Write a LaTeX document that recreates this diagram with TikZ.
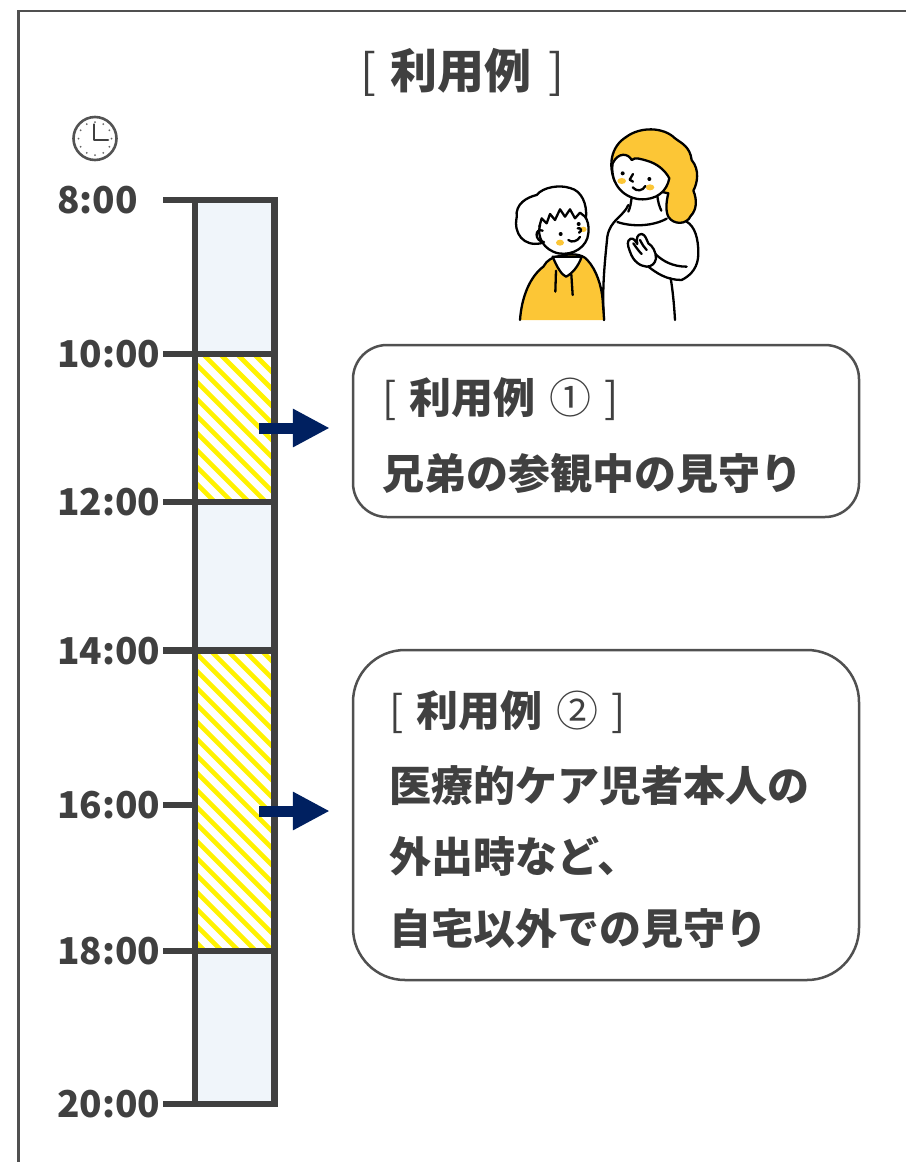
\documentclass[tikz,border=0pt]{standalone}
\usepackage{fontspec}
\setmainfont{Noto Sans CJK JP}
\usetikzlibrary{arrows.meta}

\definecolor{ink}{HTML}{404040}
\definecolor{framegray}{HTML}{505050}
\definecolor{barfill}{HTML}{F0F5FA}
\definecolor{stripe}{HTML}{FFF200}
\definecolor{navy}{HTML}{002060}
\definecolor{hairyellow}{HTML}{FCC636}

\begin{document}
\begin{tikzpicture}[x=1pt,y=-1pt,
  timelabel/.style={anchor=base west, inner sep=0pt, text=ink,
    font=\fontsize{37}{40}\selectfont\bfseries},
  boxtext/.style={anchor=base west, inner sep=0pt, text=ink,
    font=\fontsize{42}{48}\selectfont\bfseries},
  casebox/.style={draw=framegray, line width=2.5pt, fill=white,
    minimum width=506pt, inner sep=0pt},
  tickline/.style={draw=ink, line width=6.5pt},
  bigarrow/.style={draw=navy, line width=11pt,
    -{Triangle[length=37pt,width=36pt]}},
  outline/.style={draw=black, line width=2.3pt, line join=round, line cap=round},
  cheek/.style={fill=hairyellow}]

\useasboundingbox (0,0) rectangle (905,1162);

% outer frame, open to the right and below
\draw[framegray, line width=2.5pt] (18.5,1200) -- (18.5,11) -- (930,11);

% heading
\node[anchor=base, inner sep=0pt, text=ink, font=\fontsize{47}{52}\selectfont]
  (title) at (462,88) {[\hspace{0.3em}\textbf{利用例}\hspace{0.36em}]};

% clock icon
\begin{scope}[shift={(95,138.5)}]
  \draw[ink!90, line width=2.6pt, fill=white] (0,0) circle[radius=21.5];
  \foreach \a in {0,30,...,330}
    \fill[ink!80] (\a:16.5) circle[radius=1];
  \draw[ink, line width=2.6pt, line cap=round, line join=round]
    (-1,-14) -- (-1,1.5) -- (13,1.5);
\end{scope}

% time bar
\fill[barfill] (195,200) rectangle (274.5,1104);
% striped periods
\foreach \ya/\yb in {354/502, 650.5/951}{
  \begin{scope}
    \clip (195,\ya) rectangle (274.5,\yb);
    \fill[white] (195,\ya) rectangle (274.5,\yb);
    \foreach \k in {0,17,...,1020}
      \draw[stripe, line width=4.6pt] (150,80+\k) -- ++(180,180);
  \end{scope}
}
\draw[ink, line width=6.5pt] (195,200) rectangle (274.5,1104);
\foreach \y in {354,502,650.5,951}
  \draw[tickline] (195,\y) -- (274.5,\y);

% hour ticks and labels
\foreach \y/\t/\n in {200/8:00/t8, 354/10:00/t10, 502/12:00/t12,
    650.5/14:00/t14, 805/16:00/t16, 951/18:00/t18, 1104/20:00/t20}{
  \draw[tickline] (163,\y) -- (195,\y);
  \node[timelabel] (\n) at (57,\y+13.5) {\t};
}

% example boxes
\node[casebox, rounded corners=34pt, minimum height=172pt] (case1) at (606,431) {};
\node[boxtext] (case1a) at (382,413)
  {{\mdseries[}\hspace{0.32em}利用例\hspace{0.32em}{\mdseries ①}\hspace{0.32em}{\mdseries]}};
\node[boxtext] (case1b) at (382,489) {兄弟の参観中の見守り};

\node[casebox, rounded corners=52pt, minimum height=330pt] (case2) at (606,815) {};
\node[boxtext] (case2a) at (389,726)
  {{\mdseries[}\hspace{0.32em}利用例\hspace{0.32em}{\mdseries ②}\hspace{0.32em}{\mdseries]}};
\node[boxtext] (case2b) at (389,801) {医療的ケア児者本人の};
\node[boxtext] (case2c) at (389,872) {外出時など、};
\node[boxtext] (case2d) at (389,944) {自宅以外での見守り};

% arrows from the periods to the boxes
\coordinate (a1s) at (259,428);
\coordinate (a1e) at ([xshift=-22pt]case1.west |- a1s);
\draw[bigarrow] (a1s) -- (a1e);
\coordinate (a2s) at (259,811);
\coordinate (a2e) at ([xshift=-22pt]case2.west |- a2s);
\draw[bigarrow] (a2s) -- (a2e);

% mother and child
\begin{scope}[shift={(500,110)}, scale=1/3]
  % mother's body
  \fill[white] (385,285) .. controls (370,320) and (330,330) .. (322,380)
    .. controls (315,450) and (305,540) .. (312,630) -- (525,630)
    .. controls (522,580) and (520,540) .. (525,515)
    .. controls (560,510) and (595,480) .. (595,430)
    .. controls (595,380) and (585,345) .. (555,330)
    .. controls (520,320) and (490,300) .. (480,280) -- cycle;
  \draw[outline] (385,285) .. controls (370,320) and (330,330) .. (322,380)
    .. controls (315,450) and (305,540) .. (312,630);
  \draw[outline] (525,630) .. controls (522,580) and (518,540) .. (512,505);
  \draw[outline] (545,510) .. controls (575,495) and (595,470) .. (595,430)
    .. controls (595,385) and (585,350) .. (560,335);
  % mother's hair
  \draw[outline, fill=hairyellow] (345,215) .. controls (325,170) and (330,110) .. (380,80)
    .. controls (420,50) and (490,50) .. (525,85)
    .. controls (545,100) and (570,110) .. (575,150)
    .. controls (600,180) and (592,220) .. (580,242)
    .. controls (592,270) and (590,300) .. (572,318)
    .. controls (560,345) and (520,345) .. (505,320)
    .. controls (495,300) and (500,270) .. (505,250) -- cycle;
  % neck and neckline
  \draw[outline] (395,262) .. controls (393,280) and (390,295) .. (385,305);
  \draw[outline] (472,258) .. controls (474,275) and (478,290) .. (484,302);
  \draw[outline] (352,336) .. controls (400,352) and (460,348) .. (500,326);
  % mother's face
  \draw[outline, fill=white] (338,160) .. controls (330,210) and (360,262) .. (420,268)
    .. controls (470,270) and (500,245) .. (508,205)
    .. controls (495,180) and (470,160) .. (440,152)
    .. controls (425,148) and (405,140) .. (395,150)
    .. controls (385,130) and (355,125) .. (338,160) -- cycle;
  \fill[cheek] (365,213) ellipse[x radius=13, y radius=9];
  \fill[cheek] (450,232) ellipse[x radius=13, y radius=9];
  \fill (368,190) circle[radius=6];
  \fill (448,207) circle[radius=6];
  \draw[outline] (399,192) -- (389,209) -- (399,215);
  \draw[outline] (398,232) .. controls (410,246) and (428,243) .. (436,228);
  % mother's forearm and hand
  \draw[outline] (440,466) .. controls (470,490) and (500,510) .. (545,510);
  \draw[outline] (466,432) .. controls (490,455) and (520,470) .. (560,470);
  \draw[outline, fill=white] (440,470) .. controls (420,468) and (400,455) .. (390,425)
    .. controls (382,405) and (380,392) .. (392,386)
    .. controls (402,384) and (408,395) .. (412,402)
    .. controls (408,385) and (412,372) .. (425,372)
    .. controls (436,373) and (440,390) .. (445,400)
    .. controls (458,408) and (468,425) .. (468,445)
    .. controls (466,460) and (455,470) .. (440,470) -- cycle;
  \draw[outline] (400,400) .. controls (410,415) and (418,425) .. (425,432);
  \draw[outline] (420,390) .. controls (428,405) and (432,412) .. (440,420);
  % boy's hoodie
  \fill[hairyellow] (60,630) .. controls (65,560) and (90,500) .. (130,470)
    .. controls (140,450) and (160,440) .. (180,438)
    .. controls (210,430) and (245,430) .. (262,450)
    .. controls (290,480) and (305,530) .. (308,570)
    .. controls (310,600) and (312,620) .. (312,630) -- cycle;
  \draw[outline] (60,630) .. controls (65,560) and (90,500) .. (130,470)
    .. controls (140,450) and (160,440) .. (180,438)
    .. controls (210,430) and (245,430) .. (262,450)
    .. controls (290,480) and (305,530) .. (308,570)
    .. controls (310,600) and (312,620) .. (312,630);
  \draw[outline, fill=white] (158,440) .. controls (170,470) and (185,495) .. (198,500)
    .. controls (215,492) and (235,470) .. (245,440) -- cycle;
  \draw[outline] (168,482) -- (166,545);
  \draw[outline] (214,494) -- (218,555);
  % boy's hair
  \draw[outline, fill=white] (122,400) .. controls (72,410) and (40,372) .. (50,322)
    .. controls (45,282) and (80,262) .. (110,255)
    .. controls (130,230) and (180,224) .. (210,234)
    .. controls (245,242) and (262,282) .. (258,325) -- cycle;
  % boy's face
  \fill[white] (120,345) .. controls (110,380) and (130,420) .. (175,430)
    .. controls (220,438) and (262,410) .. (265,370)
    .. controls (268,345) and (262,330) .. (255,320)
    -- (240,308) -- (225,325) -- (210,298) -- (195,320) -- (180,298)
    -- (165,330) -- (150,312) -- (140,340) -- (125,325) -- cycle;
  \draw[outline] (120,345) .. controls (110,380) and (130,420) .. (175,430)
    .. controls (220,438) and (262,410) .. (265,370)
    .. controls (268,345) and (262,330) .. (255,320);
  \draw[outline] (255,320) -- (240,308) -- (225,325) -- (210,298) -- (195,320)
    -- (180,298) -- (165,330) -- (150,312) -- (140,340) -- (125,325) -- (118,350);
  \draw[outline] (128,362) .. controls (104,352) and (102,394) .. (132,396);
  \fill[cheek] (180,398) ellipse[x radius=12, y radius=9];
  \fill[cheek] (250,358) ellipse[x radius=10, y radius=8];
  \fill (182,372) circle[radius=6];
  \fill (236,342) circle[radius=6];
  \draw[outline] (233,355) .. controls (245,352) and (246,364) .. (237,368);
  \draw[outline] (205,390) .. controls (215,399) and (232,394) .. (240,381);
\end{scope}

\end{tikzpicture}
\end{document}
